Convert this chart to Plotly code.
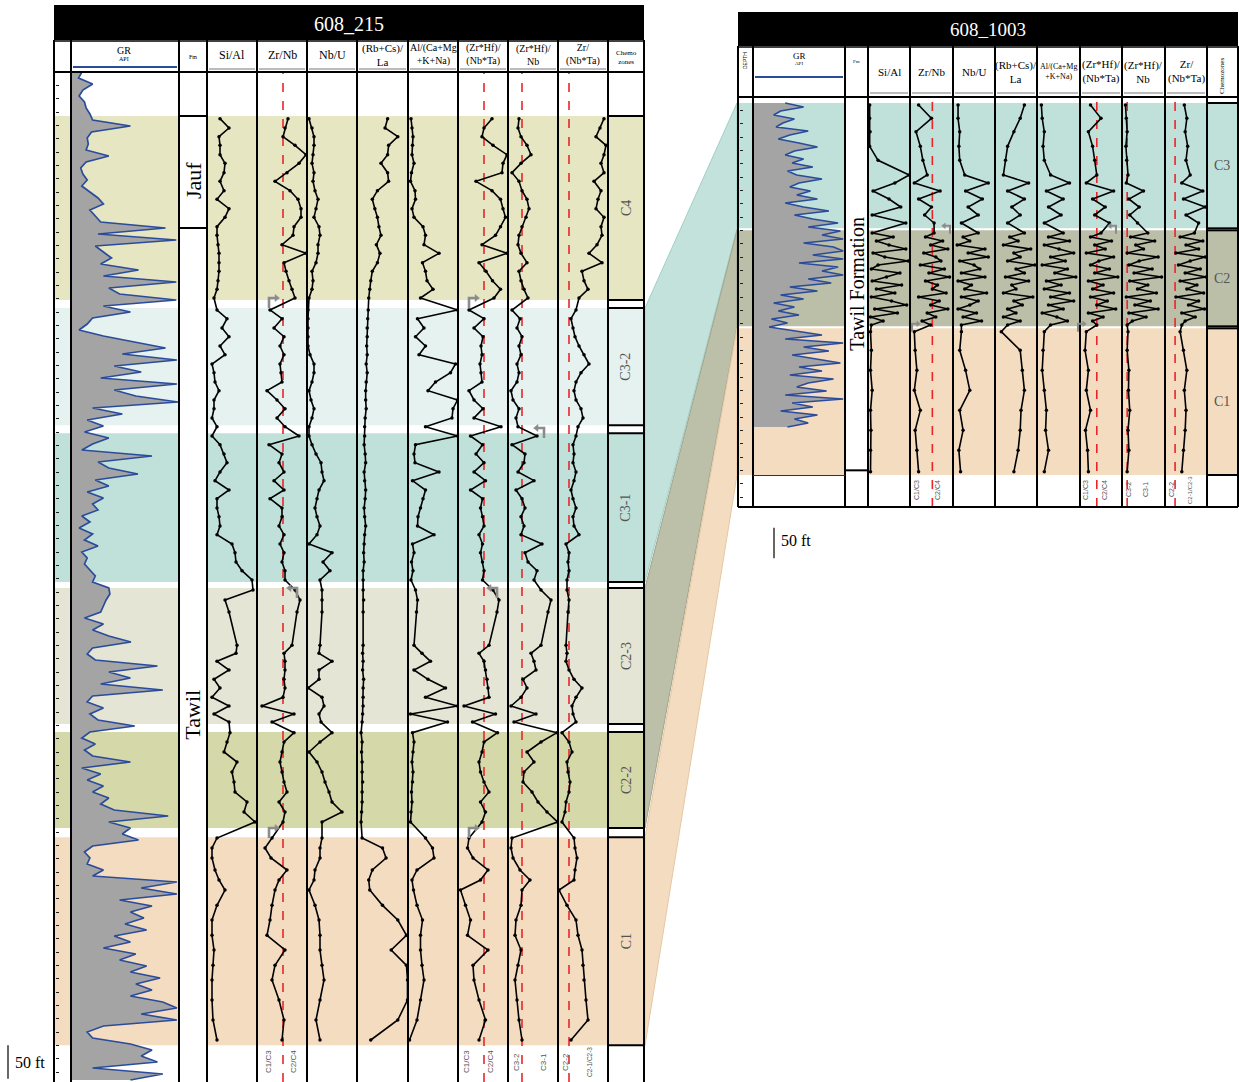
import plotly.graph_objects as go

W, H = 1239, 1082

# ======================= DATA : well 608_215 =======================
L_DEPTH = [70, 84, 97, 110, 124, 137, 151, 164, 178, 191, 205, 218, 232, 245, 259, 272, 286, 299, 313, 326, 339,
           357, 370, 384, 397, 411, 424, 438, 451, 465, 478, 492, 505, 519, 532,
           546, 559, 573, 586, 600, 613, 627, 640, 654, 667, 681, 694, 708, 721, 735, 748, 762,
           777, 792, 810, 860, 872, 884, 897, 911, 924, 938, 951, 963, 975,
           991, 1005, 1020, 1035, 1050, 1065, 1080, 1095, 1110, 1125,
           1149, 1164, 1179, 1197, 1212, 1227, 1250, 1272, 1295, 1317, 1340, 1362, 1392, 1422, 1452]
L_SI_AL = [1.3, 2.2, 1.2, 1.3, 1.3, 1.8, 1.7, 1.3, 1.7, 1.0, 2.2, 1.8, 1.0, 1.0, 1.1, 1.2, 1.2, 1.2, 1.1, 1.0, 0.7,
           1.0, 2.0, 1.5, 2.2, 1.3, 1.8, 0.5, 0.7, 0.8, 1.2, 0.7, 0.7, 0.5, 1.0,
           0.5, 1.3, 1.7, 2.0, 1.3, 0.8, 2.2, 1.0, 1.0, 1.2, 1.3, 1.0, 2.5, 2.8, 2.9, 3.5, 4.5,
           4.6, 1.8, 2.2, 3.0, 2.9, 1.0, 2.2, 0.7, 1.3, 0.5, 2.2, 0.7, 2.2,
           2.3, 2.0, 1.7, 3.0, 2.5, 2.7, 2.8, 4.0, 3.7, 4.8,
           1.0, 0.5, 0.5, 0.8, 1.2, 1.8, 1.0, 0.5, 0.5, 0.7, 0.6, 0.5, 0.5, 0.6, 1.0]
L_ZR_NB = [31, 28, 26, 38, 49, 42, 30, 18, 33, 41, 44, 44, 37, 36, 25, 49, 27, 29, 32, 35, 38,
           13, 25, 17, 27, 23, 27, 23, 24, 25, 10, 20, 28, 20, 28,
           42, 12, 25, 22, 27, 17, 27, 13, 25, 25, 22, 27, 23, 27, 25, 28, 28,
           38, 43, 40, 35, 27, 28, 28, 27, 28, 26, 5, 37, 15,
           37, 27, 25, 23, 25, 27, 30, 22, 28, 26,
           15, 8, 14, 30, 22, 18, 15, 13, 10, 28, 18, 15, 22, 27, 25]
L_NB_U = [0.2, 0.5, 0.7, 0.7, 0.6, 0.5, 0.7, 0.6, 0.8, 1.1, 0.9, 0.7, 1.2, 1.3, 1.1, 1.1, 0.9, 0.5, 0.6, 0.5, 0.2,
          0.1, 0.1, 0.1, 0.1, 0.1, 0.3, 0.7, 0.7, 0.5, 0.2, 0.4, 0.7, 0.5, 0.2,
          0.2, 0.5, 0.9, 1.4, 1.5, 1.7, 1.2, 1.0, 0.8, 1.0, 1.3, 1.0, 0.2, 2.5, 1.6, 2.3, 1.3,
          1.5, 1.5, 1.5, 1.3, 1.2, 2.5, 1.2, 1.2, 0.1, 1.5, 1.7, 1.2, 1.4,
          2.5, 1.3, 0.2, 1.0, 1.5, 1.8, 2.2, 2.5, 3.5, 1.5,
          1.5, 1.3, 1.3, 0.8, 0.7, 0.2, 0.8, 1.2, 1.3, 1.3, 1.5, 1.7, 1.3, 0.9, 1.3]
L_RBCS_LA = [0.6, 0.55, 0.8, 0.62, 0.6, 0.47, 0.6, 0.62, 0.4, 0.3, 0.35, 0.4, 0.43, 0.47, 0.38, 0.45, 0.4, 0.3, 0.27, 0.25, 0.23,
             0.22, 0.21, 0.2, 0.2, 0.19, 0.2, 0.18, 0.2, 0.18, 0.17, 0.17, 0.18, 0.16, 0.15,
             0.15, 0.14, 0.16, 0.17, 0.14, 0.15, 0.17, 0.16, 0.14, 0.15, 0.17, 0.15, 0.14, 0.13, 0.14, 0.12, 0.12,
             0.12, 0.13, 0.12, 0.12, 0.11, 0.12, 0.11, 0.13, 0.12, 0.12, 0.12, 0.11, 0.1,
             0.08, 0.1, 0.09, 0.1, 0.1, 0.11, 0.1, 0.1, 0.09, 0.08,
             0.1, 0.5, 0.57, 0.3, 0.23, 0.25, 0.5, 0.8, 0.97, 0.67, 0.97, 0.99, 0.99, 0.8, 0.27]
L_AL_CMKN = [0.6, 0.8, 1.0, 0.9, 0.8, 1.2, 0.7, 0.5, 1.4, 1.5, 0.8, 1.2, 3.0, 3.5, 3.2, 6.2, 2.9, 3.5, 3.8, 5.0, 2.5,
             9.9, 1.9, 3.2, 1.5, 3.5, 2.2, 9.5, 8.5, 5.5, 4.0, 9.9, 9.0, 8.8, 3.5,
             9.9, 1.5, 1.2, 1.4, 6.2, 0.9, 3.5, 3.0, 2.5, 2.0, 1.9, 5.2, 0.9, 1.2, 0.7, 1.0, 0.6,
             1.5, 1.9, 1.7, 1.2, 2.8, 4.5, 1.2, 4.0, 7.5, 3.5, 9.9, 0.5, 7.9,
             0.9, 1.2, 1.0, 0.8, 1.0, 0.9, 0.7, 0.8, 0.6, 0.5,
             3.5, 4.9, 5.2, 1.8, 0.8, 1.1, 1.8, 2.9, 2.5, 2.5, 2.8, 3.2, 2.5, 1.8, 0.3]
L_ZRHF_NBTA = [680, 520, 480, 700, 980, 900, 880, 360, 680, 850, 900, 950, 850, 750, 480, 980, 420, 560, 690, 850, 720,
               220, 520, 320, 500, 460, 480, 440, 460, 480, 220, 320, 500, 320, 860,
               250, 490, 360, 520, 320, 550, 250, 490, 450, 490, 520, 420, 490, 450, 490, 520, 490,
               700, 820, 780, 620, 420, 520, 550, 580, 600, 620, 120, 750, 290,
               790, 520, 480, 420, 450, 520, 620, 450, 550, 480,
               220, 190, 300, 600, 450, 50, 150, 250, 190, 600, 300, 320, 420, 550, 420]
L_ZRHF_NB = [110, 100, 130, 190, 230, 130, 40, 110, 140, 190, 210, 180, 140, 110, 100, 130, 190, 110, 130, 160, 200,
             40, 120, 90, 140, 110, 130, 90, 110, 90, 30, 50, 110, 80, 100,
             290, 40, 170, 160, 100, 260, 80, 140, 170, 130, 160, 130, 340, 170, 200, 290, 260,
             330, 430, 400, 330, 230, 260, 280, 150, 190, 130, 30, 280, 60,
             490, 330, 190, 260, 160, 150, 240, 300, 390, 495,
             40, 30, 50, 120, 220, 140, 130, 80, 70, 130, 100, 70, 90, 110, 140]
L_ZR_NBTA = [460, 420, 380, 480, 460, 430, 460, 360, 430, 400, 380, 460, 430, 440, 390, 310, 440, 240, 260, 300, 210,
             180, 130, 150, 170, 210, 260, 310, 230, 180, 160, 180, 230, 250, 200,
             180, 150, 160, 150, 180, 160, 130, 150, 180, 150, 160, 210, 80, 110, 100, 110, 90,
             90, 110, 100, 80, 90, 80, 110, 160, 240, 180, 140, 150, 180,
             40, 110, 140, 90, 100, 120, 110, 80, 70, 40,
             160, 170, 190, 170, 160, 10, 90, 180, 200, 240, 250, 260, 280, 300, 130]

# GR (API), regular sampling from the top of the log
L_GR_TOP_FT, L_GR_STEP_FT = 0, 9
L_GR = [20, 14, 40, 22, 15, 25, 28, 35, 40, 110, 38, 30, 32, 28, 70, 28, 18, 22, 30, 20,
        35, 50, 60, 35, 45, 55, 175, 50, 195, 45, 60, 75, 55, 125, 60, 195, 70, 90, 195, 60,
        110, 40, 30, 15, 60, 115, 175, 95, 196, 80, 130, 55, 196, 80, 120, 198, 40, 95, 30, 60,
        25, 70, 40, 20, 150, 50, 70, 124, 45, 70, 30, 60, 40, 50, 20, 35, 15, 40, 25, 50,
        20, 30, 25, 35, 45, 40, 70, 72, 65, 60, 55, 25, 60, 40, 70, 111, 40, 30, 45, 160,
        70, 110, 55, 170, 40, 30, 60, 35, 50, 118, 35, 20, 45, 25, 40, 110, 20, 55, 30, 60,
        40, 70, 55, 80, 180, 70, 110, 95, 125, 40, 25, 35, 30, 60, 40, 196, 130, 196, 90, 150,
        110, 135, 100, 140, 80, 110, 60, 120, 90, 140, 110, 165, 120, 150, 110, 170, 196, 130, 196, 60,
        30, 40, 110, 150, 130, 160, 40, 170, 110]

L_ZONES = ["C4", "C3-2", "C3-1", "C2-3", "C2-2", "C1"]
L_ZONE_TOP = [66, 354, 542, 774, 990, 1148]
L_ZONE_BASE = [342, 530, 765, 978, 1134, 1460]
L_ZONE_COLOR = ["#e6e6c3", "#e5f2ef", "#c0e1da", "#e4e5d4", "#d5d8a9", "#f4dcc1"]
L_FM = ["Jauf", "Tawil"]
L_FM_TOP = [66, 234]
L_FM_LABEL_FT = [162, 964]

# ======================= DATA : well 608_1003 =======================
R_DEPTH = [12, 32, 52, 74, 95, 117, 129, 141, 153, 165, 177, 189,
           204, 210, 216, 222, 228, 234, 240, 246, 252, 258, 264, 270, 276, 282, 288, 294, 300, 306, 312, 318, 324, 330, 336, 342,
           352, 380, 410, 440, 470, 500, 530, 562]
R_SI_AL = [0.2, 0.2, 0.25, 0.2, 1.2, 4.9, 3.2, 0.6, 2.5, 3.9, 0.5, 4.5,
           0.5, 3.0, 1.0, 2.5, 4.5, 0.6, 2.0, 4.8, 1.2, 0.4, 3.8, 2.2, 0.5, 4.0, 1.0, 3.2, 0.4, 2.8, 4.6, 0.8, 3.5, 0.3, 1.8, 0.4,
           0.3, 0.4, 0.3, 0.5, 0.3, 0.35, 0.3, 0.3]
R_ZR_NB = [10, 25, 7, 12, 15, 20, 5, 35, 10, 25, 17, 28,
           28, 18, 38, 24, 44, 16, 30, 36, 12, 40, 22, 46, 18, 32, 26, 42, 10, 34, 24, 44, 20, 30, 14, 24,
           5, 6, 8, 5, 12, 6, 8, 10]
R_NB_U = [0.6, 0.6, 0.8, 0.7, 0.8, 1.4, 4.2, 1.5, 3.5, 1.8, 3.0, 1.0,
          3.0, 1.2, 2.0, 0.5, 3.8, 1.8, 4.2, 0.8, 2.5, 3.2, 1.0, 3.8, 0.6, 2.2, 1.4, 4.0, 1.0, 3.0, 2.0, 0.6, 2.8, 1.2, 3.4, 1.0,
          1.0, 0.8, 1.5, 2.0, 0.8, 1.2, 0.7, 0.9]
R_RBCS_LA = [0.7, 0.6, 0.45, 0.3, 0.25, 0.2, 0.8, 0.3, 0.7, 0.4, 0.6, 0.3,
             0.7, 0.35, 0.55, 0.2, 0.85, 0.45, 0.6, 0.3, 0.95, 0.5, 0.7, 0.25, 0.8, 0.4, 0.5, 0.2, 0.9, 0.45, 0.65, 0.3, 0.5, 0.2, 0.6, 0.3,
             0.15, 0.6, 0.65, 0.7, 0.62, 0.6, 0.55, 0.45]
R_AL_CMKN = [0.8, 1.0, 1.5, 1.2, 1.5, 3.0, 7.5, 2.0, 6.0, 2.5, 5.5, 1.5,
             6.0, 2.5, 7.5, 1.5, 5.0, 8.5, 3.0, 6.5, 1.0, 7.0, 4.0, 9.0, 2.0, 5.5, 1.5, 7.5, 3.0, 8.5, 2.5, 6.0, 1.0, 4.5, 7.0, 3.0,
             1.5, 1.2, 1.0, 1.5, 2.0, 1.8, 2.5, 1.5]
R_ZRHF_NBTA = [250, 500, 200, 300, 350, 400, 150, 800, 300, 600, 350, 700,
               500, 250, 750, 350, 600, 150, 800, 450, 250, 700, 350, 900, 200, 550, 300, 800, 250, 650, 400, 850, 200, 550, 300, 400,
               150, 120, 200, 150, 250, 130, 180, 200]
R_ZRHF_NB = [40, 50, 60, 45, 55, 70, 50, 250, 80, 200, 90, 180,
             300, 100, 380, 160, 250, 60, 420, 200, 80, 350, 140, 460, 90, 300, 180, 400, 50, 330, 150, 420, 80, 280, 120, 60,
             70, 60, 80, 75, 90, 70, 80, 60]
R_ZR_NBTA = [230, 260, 240, 270, 250, 300, 200, 450, 220, 480, 250, 400,
             350, 180, 450, 250, 400, 130, 480, 300, 160, 420, 240, 490, 180, 380, 260, 460, 130, 400, 280, 470, 200, 360, 240, 200,
             180, 220, 260, 230, 250, 240, 220, 200]

R_GR_TOP_FT, R_GR_STEP_FT = 9, 6
R_GR = [70, 110, 60, 45, 90, 65, 50, 120, 80, 55, 100,
        140, 90, 70, 110, 85, 130, 75, 95, 150, 100, 80,
        125, 95, 140, 70, 110, 165, 90, 130, 185, 120, 190,
        150, 196, 110, 175, 196, 130, 196, 100, 185, 150, 196,
        120, 170, 80, 140, 60, 110, 45, 90, 55, 100, 40,
        75, 35, 95, 150, 70, 196, 110, 165, 85, 140, 190,
        100, 150, 80, 175, 120, 95, 160, 70, 196, 85, 130,
        60, 140, 90, 120, 75]

R_ZONES = ["C3", "C2", "C1"]
R_ZONE_TOP = [9, 200, 347]
R_ZONE_BASE = [197, 344, 567]
R_ZONE_COLOR = ["#c0e1da", "#bcbfa8", "#f4dcc1"]
R_FM = ["Tawil Formation"]
R_FM_TOP = [0]
R_FM_BASE = [560]

# correlation (608_1003 zone  <->  608_215 top zone, base zone)
CORR = [("C3", "C3-2", "C3-1"), ("C2", "C2-3", "C2-2"), ("C1", "C1", "C1")]
CORR_FILL = {"C3": "#c3e2dc", "C2": "#bdc0a9", "C1": "#f4dcc1"}
CORR_EDGE = {"C3": "#9fcfc6", "C2": "#9fa38a", "C1": "#e6c7a3"}

# ======================= LAYOUT helpers =======================
def X(px):
    return px / W


def Y(py):
    return 1 - py / H


L_TOP, L_BOT, L_MAXFT = 72, 1082, 1515
R_TOP, R_BOT, R_MAXFT = 97, 507, 615


def yl(ft):
    return L_TOP + ft * (L_BOT - L_TOP) / L_MAXFT


def yr(ft):
    return R_TOP + ft * (R_BOT - R_TOP) / R_MAXFT


SERIF = "Liberation Serif, Times New Roman, serif"
shapes = []
annotations = []


def rect(x0, y0, x1, y1, fill, layer="below", lc=None, lw=0):
    shapes.append(dict(type="rect", xref="paper", yref="paper", x0=X(x0), x1=X(x1), y0=Y(y1), y1=Y(y0),
                       fillcolor=fill, line=dict(color=lc or fill, width=lw), layer=layer))


def hline(x0, x1, py, color="black", width=2, layer="above"):
    shapes.append(dict(type="line", xref="paper", yref="paper", x0=X(x0), x1=X(x1), y0=Y(py), y1=Y(py),
                       line=dict(color=color, width=width), layer=layer))


def vline(px, y0, y1, color="black", width=2, layer="above"):
    shapes.append(dict(type="line", xref="paper", yref="paper", x0=X(px), x1=X(px), y0=Y(y0), y1=Y(y1),
                       line=dict(color=color, width=width), layer=layer))


def text(px, py, s, size=11, color="black", angle=0, family=SERIF):
    annotations.append(dict(x=X(px), y=Y(py), xref="paper", yref="paper", text=s, showarrow=False,
                            font=dict(size=size, color=color, family=family), textangle=angle,
                            xanchor="center", yanchor="middle"))


def hook(px, py, d, s=1.0):
    """elbow arrow: stem at px, pointing right (d=1) or left (d=-1)"""
    c = "#8c8c8c"
    p = (f"M {X(px)},{Y(py + 6 * s)} L {X(px)},{Y(py - 4 * s)} L {X(px + d * 7 * s)},{Y(py - 4 * s)}")
    shapes.append(dict(type="path", xref="paper", yref="paper", path=p, line=dict(color=c, width=2.6 * s),
                       layer="above"))
    t = (f"M {X(px + d * 6 * s)},{Y(py - 7.5 * s)} L {X(px + d * 10.5 * s)},{Y(py - 4 * s)} "
         f"L {X(px + d * 6 * s)},{Y(py - 0.5 * s)} Z")
    shapes.append(dict(type="path", xref="paper", yref="paper", path=t, fillcolor=c, line=dict(color=c, width=0.5),
                       layer="above"))


fig = go.Figure()

# ---------------- tracks ----------------
L_TRACKS = [("GR", L_GR, (71, 179), (0, 200), None),
            ("Si/Al", L_SI_AL, (207, 257), (0, 5), None),
            ("Zr/Nb", L_ZR_NB, (257, 307), (0, 50), 26),
            ("Nb/U", L_NB_U, (307, 357), (0, 5), None),
            ("(Rb+Cs)/La", L_RBCS_LA, (357, 408), (0, 1), None),
            ("Al/(Ca+Mg+K+Na)", L_AL_CMKN, (408, 458), (0, 10), None),
            ("(Zr*Hf)/(Nb*Ta)", L_ZRHF_NBTA, (458, 508), (0, 1000), 520),
            ("(Zr*Hf)/Nb", L_ZRHF_NB, (508, 558), (0, 500), 140),
            ("Zr/(Nb*Ta)", L_ZR_NBTA, (558, 608), (0, 500), 110)]
R_TRACKS = [("GR", R_GR, (753, 845), (0, 200), None),
            ("Si/Al", R_SI_AL, (868, 910), (0, 5), None),
            ("Zr/Nb", R_ZR_NB, (910, 953), (0, 50), 26),
            ("Nb/U", R_NB_U, (953, 995), (0, 5), None),
            ("(Rb+Cs)/La", R_RBCS_LA, (995, 1037), (0, 1), None),
            ("Al/(Ca+Mg+K+Na)", R_AL_CMKN, (1038, 1080), (0, 10), None),
            ("(Zr*Hf)/(Nb*Ta)", R_ZRHF_NBTA, (1080, 1122), (0, 1000), 400),
            ("(Zr*Hf)/Nb", R_ZRHF_NB, (1122, 1165), (0, 500), 60),
            ("Zr/(Nb*Ta)", R_ZR_NBTA, (1165, 1207), (0, 500), 120)]

# ---------------- backgrounds: zone bands ----------------
for top, base, col in zip(L_ZONE_TOP, L_ZONE_BASE, L_ZONE_COLOR):
    rect(54, yl(top), 179, yl(base), col)
    rect(207, yl(top), 644, yl(base), col)
for top, base, col in zip(R_ZONE_TOP, R_ZONE_BASE, R_ZONE_COLOR):
    rect(738, yr(top), 845, yr(base), col)
    rect(868, yr(top), 1238, yr(base), col)

# correlation panels
for rz, ltop, lbase in CORR:
    lt = yl(L_ZONE_TOP[L_ZONES.index(ltop)])
    lb = yl(L_ZONE_BASE[L_ZONES.index(lbase)])
    i = R_ZONES.index(rz)
    rt, rb = yr(R_ZONE_TOP[i]), yr(R_ZONE_BASE[i])
    path = (f"M {X(645)},{Y(lt)} L {X(737)},{Y(rt)} L {X(737)},{Y(rb)} L {X(645)},{Y(lb)} Z")
    shapes.append(dict(type="path", xref="paper", yref="paper", path=path, fillcolor=CORR_FILL[rz],
                       line=dict(color=CORR_EDGE[rz], width=1), layer="below"))

# red cut-off lines
n = 0
for tracks, yaxis, (t0, t1) in ((L_TRACKS, "y", (L_TOP, L_BOT)), (R_TRACKS, "y2", (R_TOP, R_BOT))):
    for name, vals, (p0, p1), rng, cut in tracks:
        n += 1
        xa = "x" if n == 1 else f"x{n}"
        if cut is not None:
            shapes.append(dict(type="line", xref=xa, yref="paper", x0=cut, x1=cut, y0=Y(t1), y1=Y(t0),
                               line=dict(color="#e8262a", width=1.6, dash="dash"), layer="below"))

# ---------------- traces ----------------
n = 0
for tracks, yaxis, depth, gr_top, gr_step in ((L_TRACKS, "y", L_DEPTH, L_GR_TOP_FT, L_GR_STEP_FT),
                                              (R_TRACKS, "y2", R_DEPTH, R_GR_TOP_FT, R_GR_STEP_FT)):
    for name, vals, (p0, p1), rng, cut in tracks:
        n += 1
        xa = "x" if n == 1 else f"x{n}"
        key = "xaxis" if n == 1 else f"xaxis{n}"
        fig.layout[key] = dict(domain=[X(p0), X(p1)], range=list(rng), visible=False, anchor=yaxis,
                               fixedrange=True)
        if name == "GR":
            gd = [gr_top + i * gr_step for i in range(len(vals))]
            fig.add_trace(go.Scatter(x=vals, y=gd, xaxis=xa, yaxis=yaxis, mode="lines", fill="tozerox",
                                     fillcolor="#a4a4a4", line=dict(color="#2b4c9b", width=1.7),
                                     showlegend=False, hoverinfo="skip"))
        else:
            fig.add_trace(go.Scatter(x=vals, y=depth, xaxis=xa, yaxis=yaxis, mode="lines+markers",
                                     line=dict(color="black", width=1.6), marker=dict(size=3.5, color="black"),
                                     showlegend=False, hoverinfo="skip"))

fig.update_layout(
    yaxis=dict(domain=[Y(L_BOT), Y(L_TOP)], range=[L_MAXFT, 0], anchor="free", position=X(55),
               showgrid=False, zeroline=False, showticklabels=False, ticks="inside", ticklen=3,
               tickcolor="#222", tickwidth=1, dtick=20, showline=False, fixedrange=True),
    yaxis2=dict(domain=[Y(R_BOT), Y(R_TOP)], range=[R_MAXFT, 0], anchor="free", position=X(739),
                showgrid=False, zeroline=False, showticklabels=False, ticks="inside", ticklen=3,
                tickcolor="#222", tickwidth=1, dtick=20, showline=False, fixedrange=True),
)

# ---------------- frames, headers ----------------
# left well
rect(54, 5, 644, 40, "black", layer="above")
text(349, 24, "608_215", size=20, color="white")
L_DIV = [54, 71, 179, 207, 257, 307, 357, 408, 458, 508, 558, 608, 644]
for px in L_DIV:
    vline(px, 40, L_BOT, width=2)
hline(54, 644, 41, width=1.5)
hline(54, 644, L_TOP, width=2)
hline(73, 177, 67, color="#2b4c9b", width=2)
for a, b in zip(L_DIV[3:-2], L_DIV[4:-1]):
    hline(a + 2, b - 2, 69, color="#bbbbbb", width=2)
text(124, 50, "GR", size=10)
text(124, 59, "API", size=6)
text(193, 57, "Fm", size=6)
L_HEAD = ["Si/Al", "Zr/Nb", "Nb/U", "(Rb+Cs)/<br>La", "Al/(Ca+Mg<br>+K+Na)", "(Zr*Hf)/<br>(Nb*Ta)",
          "(Zr*Hf)/<br>Nb", "Zr/<br>(Nb*Ta)"]
L_HEAD_SIZE = [12, 12, 12, 11, 10, 10, 10, 10]
for s, sz, a, b in zip(L_HEAD, L_HEAD_SIZE, L_DIV[3:-2], L_DIV[4:-1]):
    text((a + b) / 2, 55, s, size=sz)
text(626, 57, "Chemo<br>zones", size=7)

# formation column (left)
for ft in L_FM_TOP:
    hline(179, 207, yl(ft), width=2)
for name, ft in zip(L_FM, L_FM_LABEL_FT):
    text(193, yl(ft), name, size=22, angle=-90)

# chemozone column (left)
for name, top, base in zip(L_ZONES, L_ZONE_TOP, L_ZONE_BASE):
    hline(608, 644, yl(top), width=2)
    hline(608, 644, yl(base), width=2)
    text(626, yl((top + base) / 2), name, size=14, color="#555555", angle=-90)

# bottom labels (left)
for px, s in [(268, "C1/C3"), (293, "C2/C4"), (466, "C1/C3"), (490, "C2/C4"), (516, "C3-2"),
              (543, "C3-1"), (565, "C2-2"), (589, "C2-1/C2-3")]:
    text(px, 1062, s, size=8 if len(s) < 7 else 6.5, color="#555555", angle=-90,
         family="Liberation Sans, Arial")

# right well
rect(738, 12, 1238, 46, "black", layer="above")
text(988, 29, "608_1003", size=19, color="white")
R_DIV = [738, 753, 845, 868, 910, 953, 995, 1037, 1080, 1122, 1165, 1207, 1238]
for px in R_DIV:
    vline(px, 46, R_BOT, width=2)
hline(738, 1238, 47, width=1.5)
hline(738, 1238, R_TOP, width=2)
hline(1207, 1238, 103, width=2)
hline(738, 1238, R_BOT, width=2)
hline(755, 843, 77, color="#2b4c9b", width=2)
for a, b in zip(R_DIV[3:-2], R_DIV[4:-1]):
    hline(a + 2, b - 2, 93, color="#bbbbbb", width=2)
text(745, 60, "DEPTH", size=5, angle=-90, family="Liberation Sans, Arial")
text(799, 56, "GR", size=9)
text(799, 64, "API", size=5)
text(856, 62, "Fm", size=5)
R_HEAD = ["Si/Al", "Zr/Nb", "Nb/U", "(Rb+Cs)/<br>La", "Al/(Ca+Mg<br>+K+Na)", "(Zr*Hf)/<br>(Nb*Ta)",
          "(Zr*Hf)/<br>Nb", "Zr/<br>(Nb*Ta)"]
R_HEAD_SIZE = [11, 11, 11, 11, 8, 11, 11, 11]
for s, sz, a, b in zip(R_HEAD, R_HEAD_SIZE, R_DIV[3:-2], R_DIV[4:-1]):
    text((a + b) / 2, 72, s, size=sz)
text(1222, 76, "Chemozones", size=7, angle=-90)

# formation column (right)
for name, top, base in zip(R_FM, R_FM_TOP, R_FM_BASE):
    hline(845, 868, yr(base), width=2)
    text(857, yr((top + base) / 2), name, size=20, angle=-90)
hline(753, 845, yr(R_ZONE_BASE[-1]) + 0.5, color="#333333", width=1)

# chemozone column (right)
for name, top, base in zip(R_ZONES, R_ZONE_TOP, R_ZONE_BASE):
    hline(1207, 1238, yr(top), width=2)
    hline(1207, 1238, yr(base), width=2)
    text(1222, yr((top + base) / 2), name, size=14, color="#555555")

# bottom labels (right)
for px, s in [(917, "C1/C3"), (938, "C2/C4"), (1086, "C1/C3"), (1105, "C2/C4"), (1129, "C3-2"),
              (1146, "C3-1"), (1172, "C2-2"), (1190, "C2-1/C2-3")]:
    text(px, 490, s, size=7 if len(s) < 7 else 6, color="#555555", angle=-90, family="Liberation Sans, Arial")

# gray elbow arrows at zone shifts
for px, py, d, s in [(269, 302, 1, 1.0), (297, 592, -1, 1.0), (269, 832, 1, 1.0),
                     (469, 302, 1, 1.0), (497, 592, -1, 1.0), (469, 832, 1, 1.0), (544, 432, -1, 1.0),
                     (950, 229, -1, 0.8), (912, 327, 1, 0.8), (1116, 229, -1, 0.8), (1078, 327, 1, 0.8)]:
    hook(px, py, d, s)

# scale bars: 50 ft
vline(8, yl(1460), yl(1510), width=1.2)
text(30, 1062, "50 ft", size=16)
vline(774, yr(646), yr(692), width=1.2)
text(796, 540, "50 ft", size=16)

fig.update_layout(width=W, height=H, margin=dict(l=0, r=0, t=0, b=0), paper_bgcolor="white",
                  plot_bgcolor="rgba(0,0,0,0)", shapes=shapes, annotations=annotations, showlegend=False)

fig.write_html("out.html", config={"displayModeBar": False},
               post_script="document.body.style.margin='0px';document.body.style.overflow='hidden';")
